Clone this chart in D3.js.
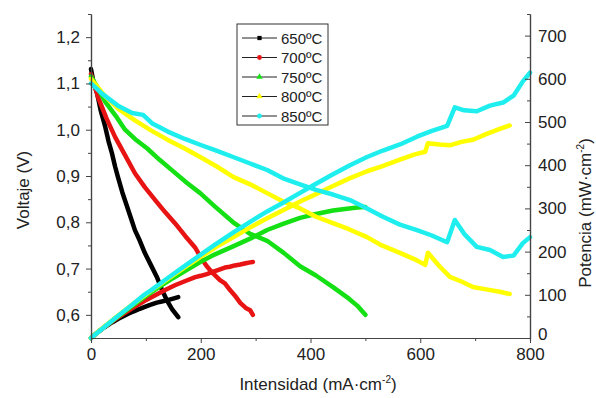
<!DOCTYPE html>
<html>
<head>
<meta charset="utf-8">
<script src="https://cdn.jsdelivr.net/npm/d3@7"></script>
<style>
  body { margin: 0; background: #fff; }
  text { font-family: Arial, "Liberation Sans", sans-serif; fill: #222; }
</style>
</head>
<body>
<div id="chart"></div>
<script>
// ---- data ----
const seriesLabels = ["650ºC", "700ºC", "750ºC", "800ºC", "850ºC"];

const current650 = [0, 5, 11, 18, 26, 32, 38, 44, 49, 57, 66, 73, 80, 89, 98, 109, 120, 129, 138, 148, 159];
const voltage650 = [1.131, 1.10, 1.079, 1.04, 1.006, 0.975, 0.95, 0.92, 0.898, 0.865, 0.833, 0.808, 0.783, 0.76, 0.734, 0.708, 0.682, 0.655, 0.632, 0.612, 0.595];
const power650   = [0, 5.5, 12, 19, 26, 31, 36, 40, 44, 49, 55, 59, 62.6, 67.6, 72, 77, 82, 84.5, 87, 90.5, 94.6];

const current700 = [0, 13, 28, 44, 62, 80, 98, 117, 135, 153, 172, 190, 200, 211, 222, 235, 244, 253, 262, 272, 282, 290, 295];
const voltage700 = [1.12, 1.07, 1.025, 0.984, 0.945, 0.906, 0.876, 0.848, 0.822, 0.798, 0.77, 0.745, 0.724, 0.705, 0.69, 0.675, 0.668, 0.654, 0.642, 0.626, 0.615, 0.61, 0.60];
const power700   = [0, 14, 29, 43, 58.5, 72.5, 86, 99, 111, 122, 132, 141, 144, 148, 153, 159, 163, 165, 168, 170, 173, 175, 176];

const current750 = [0, 15, 26, 45, 62, 80, 102, 125, 150, 175, 199, 225, 259, 290, 321, 350, 381, 410, 441, 470, 485, 500];
const voltage750 = [1.115, 1.085, 1.06, 1.03, 1.00, 0.98, 0.96, 0.935, 0.91, 0.885, 0.863, 0.835, 0.80, 0.775, 0.76, 0.735, 0.705, 0.685, 0.66, 0.635, 0.62, 0.60];
const power750   = [0, 16, 27.5, 46, 62, 79, 99, 119, 139, 158, 176, 193, 212, 230, 250, 264, 278, 287, 295, 300, 302, 303];

const current800 = [0, 10, 26, 50, 80, 110, 140, 170, 199, 230, 259, 290, 321, 350, 381, 410, 441, 470, 503, 530, 563, 590, 609, 614, 635, 654, 675, 696, 720, 745, 763];
const voltage800 = [1.11, 1.095, 1.072, 1.045, 1.02, 0.998, 0.978, 0.96, 0.941, 0.92, 0.898, 0.882, 0.863, 0.845, 0.83, 0.812, 0.798, 0.785, 0.768, 0.75, 0.734, 0.72, 0.708, 0.734, 0.705, 0.682, 0.672, 0.66, 0.655, 0.65, 0.645];
const power800   = [0, 11, 28, 52.5, 82, 110, 137, 163, 187, 212, 233, 256, 277, 296, 316, 333, 352, 369, 386, 397.5, 413, 425, 431, 451, 448, 446, 454, 459, 472, 484, 492];

const current850 = [0, 20, 49, 75, 95, 111, 140, 171, 200, 226, 259, 290, 321, 350, 381, 410, 441, 472, 503, 532, 563, 594, 620, 649, 663, 680, 703, 727, 751, 770, 787, 800];
const voltage850 = [1.10, 1.078, 1.052, 1.036, 1.032, 1.014, 0.996, 0.98, 0.967, 0.956, 0.941, 0.927, 0.913, 0.895, 0.882, 0.87, 0.86, 0.848, 0.83, 0.812, 0.795, 0.783, 0.772, 0.757, 0.805, 0.775, 0.747, 0.74, 0.725, 0.728, 0.755, 0.768];
const power850   = [0, 21, 51, 77, 98, 112, 139, 167, 193, 216, 244, 269, 293, 313, 336, 357, 379, 400, 419, 434, 448, 466, 479, 491, 534, 527, 525, 538, 545, 561, 594, 614];

const xTicks = [0, 200, 400, 600, 800];
const yLeftTicks = [0.6, 0.7, 0.8, 0.9, 1.0, 1.1, 1.2];
const yRightTicks = [0, 100, 200, 300, 400, 500, 600, 700];

// ---- config ----
const cfg = {
  width: 596,
  height: 398,
  margin: { left: 91, right: 66, top: 14, bottom: 60 }
};
const colors = ["#000000", "#e81414", "#14e014", "#ffff00", "#1eeeee"];
const markers = [d3.symbolSquare, d3.symbolCircle, d3.symbolTriangle, d3.symbolTriangle, d3.symbolCircle];

const series = [
  { I: current650, V: voltage650, P: power650 },
  { I: current700, V: voltage700, P: power700 },
  { I: current750, V: voltage750, P: power750 },
  { I: current800, V: voltage800, P: power800 },
  { I: current850, V: voltage850, P: power850 }
];

const xScale = d3.scaleLinear([0, 800], [cfg.margin.left, cfg.width - cfg.margin.right]);
const yLeft = d3.scaleLinear([0.55, 1.25], [cfg.height - cfg.margin.bottom, cfg.margin.top]);
const yRight = d3.scaleLinear([0, 750], [cfg.height - cfg.margin.bottom, cfg.margin.top]);

const comma = v => d3.format(".1f")(v).replace(".", ",");

const svg = d3.select("#chart")
  .append("svg")
  .attr("width", cfg.width)
  .attr("height", cfg.height);

// ---- curves ----
const lineV = d3.line().x(d => xScale(d[0])).y(d => yLeft(d[1])).curve(d3.curveLinear);
const lineP = d3.line().x(d => xScale(d[0])).y(d => yRight(d[1])).curve(d3.curveLinear);

const curves = svg.append("g").attr("class", "curves");
series.forEach((s, i) => {
  const vPts = s.I.map((x, k) => [x, s.V[k]]);
  const pPts = s.I.map((x, k) => [x, s.P[k]]);
  [[lineV, vPts], [lineP, pPts]].forEach(([gen, pts]) => {
    curves.append("path")
      .attr("d", gen(pts))
      .style("fill", "none")
      .style("stroke", colors[i])
      .style("stroke-width", 4.5)
      .style("stroke-linejoin", "round")
      .style("stroke-linecap", "round");
  });
});

// ---- axes ----
const axisColor = "#444";

function styleAxis(g) {
  g.select(".domain").attr("stroke", axisColor).attr("stroke-width", 1.2);
  g.selectAll(".tick line").attr("stroke", axisColor);
  g.selectAll(".tick text").style("font-size", "17px").style("fill", "#222");
}

const bottom = cfg.height - cfg.margin.bottom;
const right = cfg.width - cfg.margin.right;

// x: minor then major
svg.append("g")
  .attr("transform", `translate(0, ${bottom})`)
  .call(d3.axisBottom(xScale).tickValues([100, 300, 500, 700]).tickSize(3).tickFormat(""))
  .call(styleAxis);
svg.append("g")
  .attr("transform", `translate(0, ${bottom})`)
  .call(d3.axisBottom(xScale).tickValues(xTicks).tickSize(5).tickSizeOuter(0).tickPadding(5).tickFormat(d3.format("d")))
  .call(styleAxis);

// left
svg.append("g")
  .attr("transform", `translate(${cfg.margin.left}, 0)`)
  .call(d3.axisLeft(yLeft).tickValues([0.65, 0.75, 0.85, 0.95, 1.05, 1.15, 1.25]).tickSize(3).tickSizeOuter(0).tickFormat(""))
  .call(styleAxis);
svg.append("g")
  .attr("transform", `translate(${cfg.margin.left}, 0)`)
  .call(d3.axisLeft(yLeft).tickValues(yLeftTicks).tickSize(5).tickSizeOuter(0).tickPadding(6).tickFormat(comma))
  .call(styleAxis);

// right (ticks point inward)
svg.append("g")
  .attr("transform", `translate(${right}, 0)`)
  .call(d3.axisRight(yRight).tickValues([50, 150, 250, 350, 450, 550, 650, 750]).tickSize(-3).tickSizeOuter(0).tickFormat(""))
  .call(styleAxis);
const rightAxis = svg.append("g")
  .attr("transform", `translate(${right}, 0)`)
  .call(d3.axisRight(yRight).tickValues(yRightTicks).tickSize(-5).tickSizeOuter(0).tickPadding(8).tickFormat(d3.format("d")))
  .call(styleAxis);
// lift the "0" a touch so it clears the "800" below it
rightAxis.selectAll(".tick text").filter(d => d === 0).attr("dy", "0.1em");

// ---- axis titles ----
svg.append("text")
  .attr("transform", `translate(29, 190) rotate(-90)`)
  .attr("text-anchor", "middle")
  .style("font-size", "17px")
  .text("Voltaje (V)");

const xTitle = svg.append("text")
  .attr("x", 318)
  .attr("y", 390)
  .attr("text-anchor", "middle")
  .style("font-size", "17px");
xTitle.append("tspan").text("Intensidad (mA·cm");
xTitle.append("tspan").attr("dy", -7).style("font-size", "10px").text("-2");
xTitle.append("tspan").attr("dy", 7).text(")");

const yTitle = svg.append("text")
  .attr("transform", `translate(591, 213) rotate(-90)`)
  .attr("text-anchor", "middle")
  .style("font-size", "17px");
yTitle.append("tspan").text("Potencia (mW·cm");
yTitle.append("tspan").attr("dy", -7).style("font-size", "10px").text("-2");
yTitle.append("tspan").attr("dy", 7).text(")");

// ---- legend ----
const legend = svg.append("g").attr("class", "legend");
legend.append("rect")
  .attr("x", 237).attr("y", 24)
  .attr("width", 91).attr("height", 101)
  .style("fill", "#fff")
  .style("stroke", "#333")
  .style("stroke-width", 1);

seriesLabels.forEach((lab, i) => {
  const y = 38 + i * 19.5;
  legend.append("line")
    .attr("x1", 242).attr("x2", 277)
    .attr("y1", y).attr("y2", y)
    .style("stroke", "#222").style("stroke-width", 1);
  legend.append("path")
    .attr("d", d3.symbol().type(markers[i]).size(18)())
    .attr("transform", `translate(259.5, ${y})`)
    .style("fill", colors[i]);
  legend.append("text")
    .attr("x", 281).attr("y", y + 5.5)
    .style("font-size", "15px")
    .text(lab);
});
</script>
</body>
</html>
